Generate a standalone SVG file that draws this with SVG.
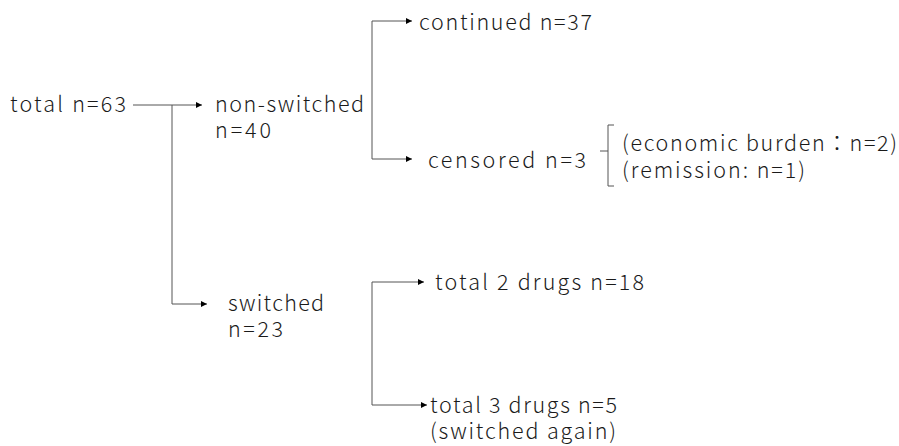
<svg xmlns="http://www.w3.org/2000/svg" width="899" height="446" viewBox="0 0 899 446">
<defs>
<marker id="ah" viewBox="0 0 6 6" refX="6" refY="3" markerWidth="6" markerHeight="6" markerUnits="userSpaceOnUse" orient="auto">
<path d="M0,0 L6,3 L0,6 z" fill="#000"/>
</marker>
<style>
text{font-family:"Noto Sans CJK JP","Noto Sans",sans-serif;font-size:21.5px;font-weight:300;fill:#1a1a1a}
.ln{fill:none;stroke:#555;stroke-width:1}
.ar{marker-end:url(#ah)}
</style>
</defs>
<rect width="899" height="446" fill="#fff"/>
<g id="connectors">
<path class="ln ar" d="M133,105 H202"/>
<path class="ln ar" d="M172,105 V304 H207"/>
<path class="ln ar" d="M372,159 V21 H412"/>
<path class="ln ar" d="M372,159 H412"/>
<path class="ln ar" d="M372,405 V282 H424"/>
<path class="ln ar" d="M372,405 H427"/>
<path class="ln" d="M614,125 H608 V151 H600 M608,151 V186 H614"/>
</g>
<g id="total"><text x="10" y="112" textLength="116" lengthAdjust="spacing">total n=63</text></g>
<g id="nonswitched"><text><tspan x="215" y="112" textLength="149" lengthAdjust="spacing">non-switched</tspan><tspan x="215" y="138" textLength="56" lengthAdjust="spacing">n=40</tspan></text></g>
<g id="continued"><text x="419" y="30" textLength="173" lengthAdjust="spacing">continued n=37</text></g>
<g id="censored"><text x="428" y="168" textLength="158" lengthAdjust="spacing">censored  n=3</text></g>
<g id="reasons"><text><tspan x="622" y="151" textLength="275" lengthAdjust="spacing">(economic burden：n=2)</tspan><tspan x="622" y="178" textLength="183" lengthAdjust="spacing">(remission: n=1)</tspan></text></g>
<g id="switched"><text><tspan x="228" y="311" textLength="96" lengthAdjust="spacing">switched</tspan><tspan x="228" y="337" textLength="55" lengthAdjust="spacing">n=23</tspan></text></g>
<g id="drugs2"><text x="435" y="290" textLength="209" lengthAdjust="spacing">total 2 drugs  n=18</text></g>
<g id="drugs3"><text><tspan x="430" y="413" textLength="187" lengthAdjust="spacing">total 3 drugs n=5</tspan><tspan x="430" y="439" textLength="186" lengthAdjust="spacing">(switched again)</tspan></text></g>
</svg>
